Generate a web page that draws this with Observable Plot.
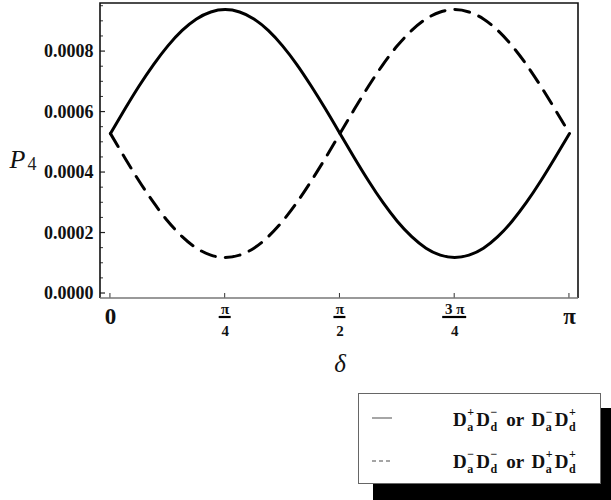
<!DOCTYPE html>
<html><head><meta charset="utf-8">
<script src="https://cdn.jsdelivr.net/npm/d3@7"></script>
<script src="https://cdn.jsdelivr.net/npm/@observablehq/plot@0.6"></script>
<style>
body{margin:0;background:#fff;}
#wrap{position:relative;width:611px;height:500px;overflow:hidden;background:#fff;}
#shadow{position:absolute;left:373px;top:408px;width:238px;height:92px;background:#000;}
#legend{position:absolute;left:358px;top:393px;width:241px;height:89px;background:#fff;border:1px solid #666;}
.row{position:absolute;left:0;width:241px;height:30px;font-family:"Liberation Serif",serif;font-weight:bold;font-size:19px;color:#111;}
.row svg{position:absolute;left:12px;}
.row .lab{position:absolute;left:94px;top:0;white-space:nowrap;line-height:1;}
.ss{display:inline-block;position:relative;width:7px;height:0;margin-left:0.5px;margin-right:2px;}
.ss span{position:absolute;left:0;font-size:12px;line-height:1;}
.ss .sp{top:-20px;}
.ss .sb{top:-5px;}
.or{margin:0 3px 0 2px;}
</style></head><body><div id="wrap"><div id="shadow"></div><div id="legend"></div></div>
<script>
// δ sample positions (radians)
const delta = [0, 0.098, 0.196, 0.295, 0.393, 0.491, 0.589, 0.687, 0.785, 0.884, 0.982, 1.080, 1.178, 1.276, 1.374, 1.473, 1.571, 1.669, 1.767, 1.865, 1.963, 2.062, 2.160, 2.258, 2.356, 2.454, 2.553, 2.651, 2.749, 2.847, 2.945, 3.043, 3.142];
// P4 for D_a^+D_d^- or D_a^-D_d^+ (solid)
const solidP = [0.000529, 0.000609, 0.000686, 0.000757, 0.000819, 0.000870, 0.000908, 0.000931, 0.000939, 0.000931, 0.000908, 0.000870, 0.000819, 0.000757, 0.000686, 0.000609, 0.000529, 0.000449, 0.000372, 0.000301, 0.000239, 0.000188, 0.000150, 0.000127, 0.000119, 0.000127, 0.000150, 0.000188, 0.000239, 0.000301, 0.000372, 0.000449, 0.000529];
// P4 for D_a^-D_d^- or D_a^+D_d^+ (dashed)
const dashedP = [0.000529, 0.000449, 0.000372, 0.000301, 0.000239, 0.000188, 0.000150, 0.000127, 0.000119, 0.000127, 0.000150, 0.000188, 0.000239, 0.000301, 0.000372, 0.000449, 0.000529, 0.000609, 0.000686, 0.000757, 0.000819, 0.000870, 0.000908, 0.000931, 0.000939, 0.000931, 0.000908, 0.000870, 0.000819, 0.000757, 0.000686, 0.000609, 0.000529];
const seriesLabels = ["D_a^+D_d^- or D_a^-D_d^+", "D_a^-D_d^- or D_a^+D_d^+"];
const yTicks = [0, 0.0002, 0.0004, 0.0006, 0.0008];
const yTickLabels = ["0.0000", "0.0002", "0.0004", "0.0006", "0.0008"];
const yMinorTicks = [0.00005, 0.0001, 0.00015, 0.00025, 0.0003, 0.00035, 0.00045, 0.0005, 0.00055, 0.00065, 0.0007, 0.00075, 0.00085, 0.0009, 0.00095];
const xTicks = [0, Math.PI / 4, Math.PI / 2, 3 * Math.PI / 4, Math.PI];
const xTickNum = ["0", "π", "π", "3 π", "π"];
const xTickDen = ["", "4", "2", "4", ""];

const solidRows = delta.map((d, i) => ({delta: d, p: solidP[i]}));
const dashedRows = delta.map((d, i) => ({delta: d, p: dashedP[i]}));
const xDomain = [-0.068, Math.PI + 0.062];
const yDomain = [-0.0000165, 0.000959];
const serif = "'Liberation Serif', 'Times New Roman', serif";

const whole = xTicks.map((t, i) => ({t, num: xTickNum[i], den: xTickDen[i]}));
const wholeTicks = whole.filter(d => d.den === "");
const fracTicks = whole.filter(d => d.den !== "");

function decor(index, scales, values, dims) {
  const x = scales.x, y = scales.y;
  const L = dims.marginLeft, R = dims.width - dims.marginRight;
  const T = dims.marginTop, B = dims.height - dims.marginBottom;
  const g = d3.create("svg:g").attr("fill", "none");
  for (const v of yTicks) g.append("line").attr("x1", L).attr("x2", L + 5).attr("y1", y(v)).attr("y2", y(v)).attr("stroke", "#222").attr("stroke-width", 1.2);
  for (const v of yMinorTicks) g.append("line").attr("x1", L).attr("x2", L + 3).attr("y1", y(v)).attr("y2", y(v)).attr("stroke", "#333").attr("stroke-width", 1);
  for (const v of xTicks) g.append("line").attr("x1", x(v)).attr("x2", x(v)).attr("y1", B).attr("y2", B - 5).attr("stroke", "#333").attr("stroke-width", 1);
  for (const d of fracTicks) {
    const hw = d.num.length > 1 ? 12 : 6;
    g.append("line").attr("x1", x(d.t) - hw).attr("x2", x(d.t) + hw).attr("y1", B + 19).attr("y2", B + 19).attr("stroke", "#000").attr("stroke-width", 2.2);
  }
  g.append("path").attr("d", `M${L},${B}V${T}H${R}V${B}`).attr("stroke", "#111").attr("stroke-width", 1.6);
  g.append("line").attr("x1", L).attr("x2", R).attr("y1", B).attr("y2", B).attr("stroke", "#777").attr("stroke-width", 1.6);
  return g.node();
}

const chart = Plot.plot({
  width: 611, height: 500,
  marginLeft: 100, marginRight: 33, marginTop: 3, marginBottom: 202,
  x: {domain: xDomain, axis: null},
  y: {domain: yDomain, axis: null},
  style: {background: "transparent", overflow: "visible"},
  marks: [
    Plot.line(solidRows, {x: "delta", y: "p", stroke: "#000", strokeWidth: 3, curve: "natural"}),
    Plot.line(dashedRows, {x: "delta", y: "p", stroke: "#000", strokeWidth: 3, curve: "natural", strokeDasharray: "15,10"}),
    decor,
    Plot.text(yTicks, {y: d => d, frameAnchor: "left", text: (d, i) => yTickLabels[i], textAnchor: "end", dx: -7, fontSize: 18, fontWeight: "bold", fontFamily: serif, fill: "#111"}),
    Plot.text(wholeTicks, {x: "t", frameAnchor: "bottom", text: "num", dy: 18, lineAnchor: "middle", fontSize: 23, fontWeight: "bold", fontFamily: serif, fill: "#111"}),
    Plot.text(fracTicks, {x: "t", frameAnchor: "bottom", text: "num", dy: 11, lineAnchor: "middle", fontSize: 15, fontWeight: "bold", fontFamily: serif, fill: "#111"}),
    Plot.text(fracTicks, {x: "t", frameAnchor: "bottom", text: "den", dy: 33, lineAnchor: "middle", fontSize: 15, fontWeight: "bold", fontFamily: serif, fill: "#111"}),
    Plot.text(["δ"], {x: Math.PI / 2, frameAnchor: "bottom", text: d => d, dy: 65, lineAnchor: "middle", fontSize: 25, fontStyle: "italic", fontFamily: serif, fill: "#111"}),
    Plot.text(["P"], {frameAnchor: "left", y: 0.00045, text: d => d, dx: -91, dy: 2, textAnchor: "start", lineAnchor: "middle", fontSize: 26, fontStyle: "italic", fontFamily: serif, fill: "#111"}),
    Plot.text(["4"], {frameAnchor: "left", y: 0.00045, text: d => d, dx: -73, dy: 7, textAnchor: "start", lineAnchor: "middle", fontSize: 18, fontFamily: serif, fill: "#222"})
  ]
});
const wrap = document.getElementById("wrap");
chart.style.position = "absolute";
chart.style.left = "0";
chart.style.top = "0";
wrap.insertBefore(chart, wrap.firstChild);

function toHtml(s) {
  return s.replace(/D_([a-z])\^([+-])/g, (m, sub, sup) => `D<span class="ss"><span class="sp">${sup === "-" ? "−" : "+"}</span><span class="sb">${sub}</span></span>`)
          .replace(/ or /g, `<span class="or"> or </span>`);
}
const legend = document.getElementById("legend");
seriesLabels.forEach((lab, i) => {
  const row = document.createElement("div");
  row.className = "row";
  row.style.top = (i === 0 ? 16 : 58) + "px";
  const dash = i === 0 ? "" : "stroke-dasharray='4,3'";
  row.innerHTML = `<svg width="22" height="4" style="top:${i === 0 ? 6 : 7}px"><line x1="1" x2="21" y1="2" y2="2" stroke="#888" stroke-width="1.5" ${dash}/></svg><span class="lab">${toHtml(lab)}</span>`;
  legend.appendChild(row);
});
</script>
</body></html>
